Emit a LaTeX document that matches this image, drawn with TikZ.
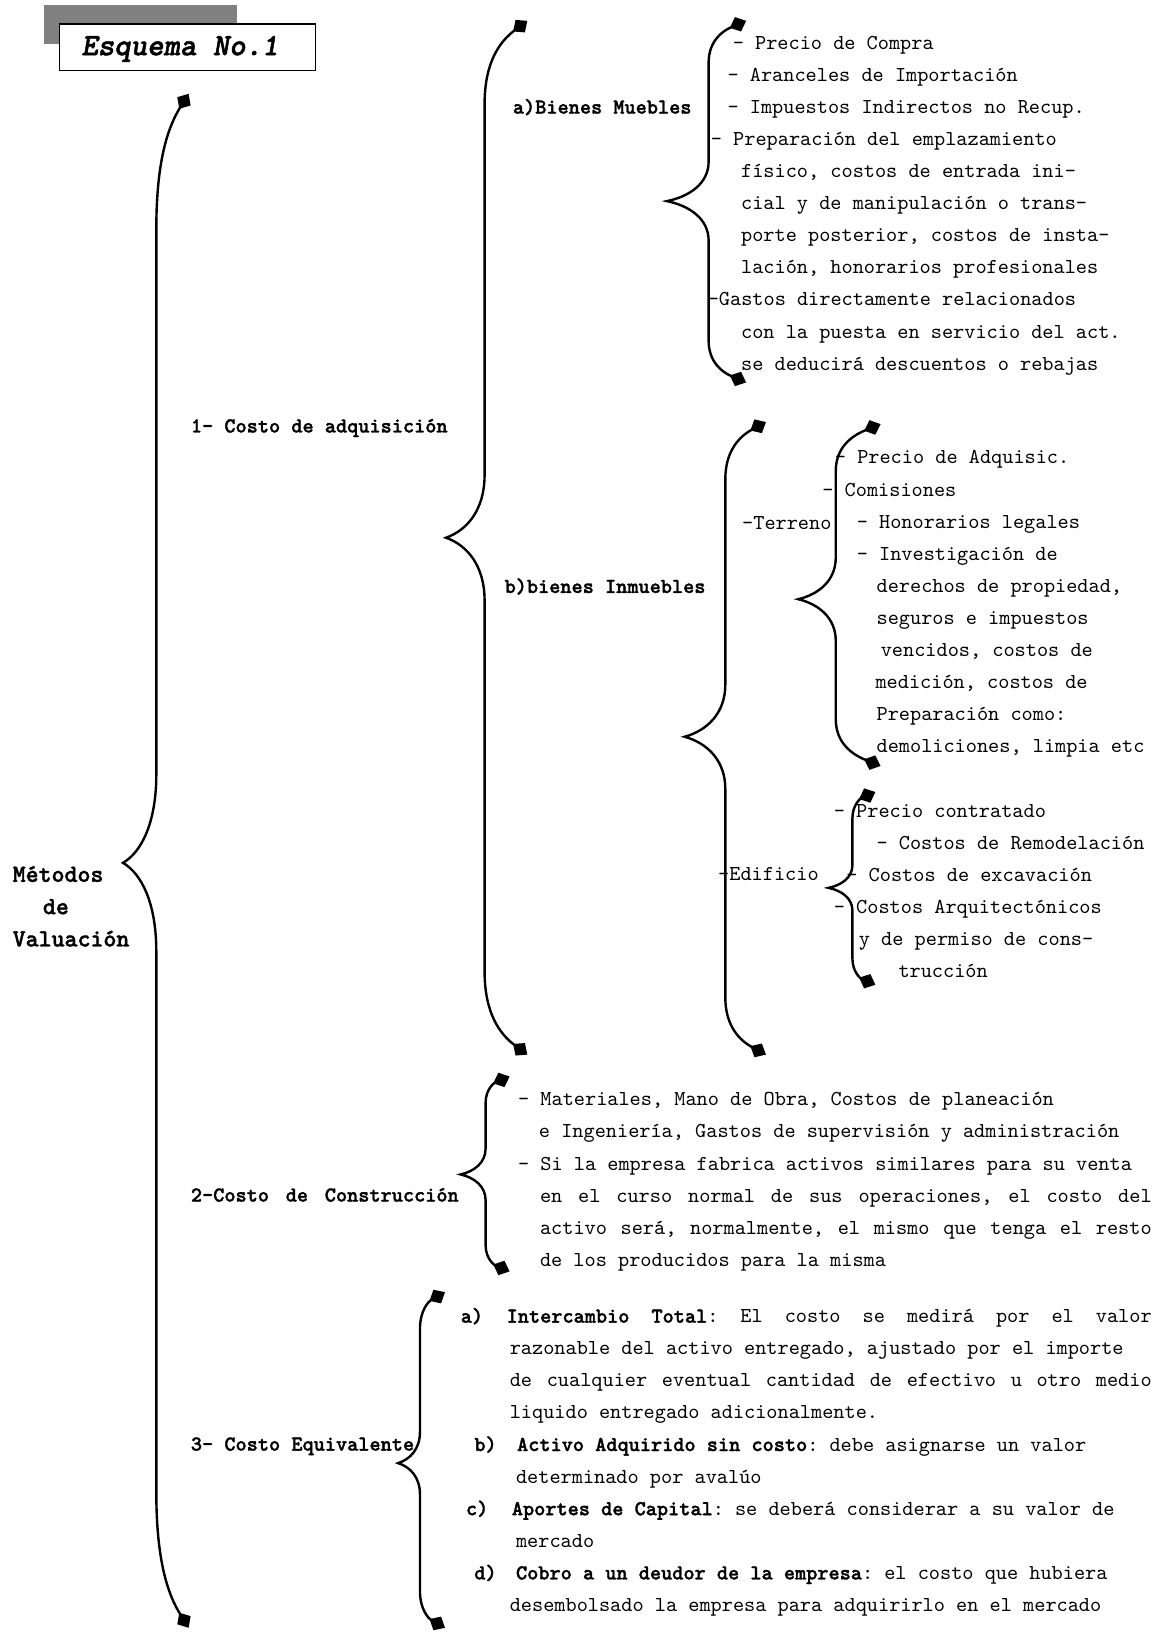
\documentclass[tikz,border=0pt]{standalone}
\usepackage{fontspec}
\setmainfont{lmmono10-regular.otf}[
  BoldFont=lmmonolt10-bold.otf, BoldItalicFont=lmmonolt10-boldoblique.otf,
  BoldFeatures={FakeBold=1.5}, BoldItalicFeatures={FakeBold=1.5}]
\usetikzlibrary{arrows.meta}

\newcommand{\texto}{\fontsize{20.4}{30.8}\selectfont\frenchspacing}
\newcommand{\just}[2]{\makebox[#1][s]{\spaceskip=\fontdimen2\font plus 4em\relax #2}}
% llave: x vertical, y punta sup., y pico, y punta inf., ancho punta, ancho pico, curva punta, curva pico
\newcommand{\llave}[8]{%
  \draw[llave] (#1+#5,#2) .. controls (#1+0.35*#5,#2+0.25*#7) and (#1,#2+0.5*#7) .. (#1,#2+#7)
    -- (#1,#3-#8) .. controls (#1,#3-0.45*#8) and (#1-0.45*#6,#3-0.12*#8) .. (#1-#6,#3)
    .. controls (#1-0.45*#6,#3+0.12*#8) and (#1,#3+0.45*#8) .. (#1,#3+#8)
    -- (#1,#4-#7) .. controls (#1,#4-0.5*#7) and (#1+0.35*#5,#4-0.25*#7) .. (#1+#5,#4);}

\tikzset{
  llave/.style={line width=2.3pt, {Diamond[length=17pt,width=15pt]}-{Diamond[length=17pt,width=15pt]}},
  linea/.style={anchor=base west, inner sep=0pt, font=\texto},
  etiqueta/.style={linea, font=\texto\bfseries},
  bloque/.style={anchor=north west, inner sep=0pt, align=left, font=\texto},
  titulo/.style={anchor=base west, inner sep=0pt, font=\fontsize{30}{34}\selectfont\bfseries\itshape}
}

\begin{document}
\begin{tikzpicture}[x=1pt,y=-1pt]
  \useasboundingbox (0,0) rectangle (1114,1568);

  %Recuadro del titulo con su sombra
  \fill[gray] (42,5) rectangle (227,42);
  \draw[fill=white, line width=1.2pt] (57,23) rectangle (303,68);
  \node[titulo] (esquema) at (78,53) {Esquema No.1};

  %Llaves (primero, el texto va encima)
  \llave{150}{90}{828}{1562}{31}{32}{130}{85}
  \llave{465}{20}{516}{1012}{41}{37}{80}{60}
  \llave{680}{20}{193}{367}{36}{40}{40}{38}
  \llave{696}{405}{707}{1012}{39}{39}{55}{50}
  \llave{802}{407}{575}{735}{43}{36}{45}{40}
  \llave{818}{760}{852}{945}{22}{23}{25}{22}
  \llave{466}{1033}{1127}{1220}{23}{24}{25}{25}
  \llave{403}{1240}{1404}{1562}{24}{21}{35}{30}

  %Nivel 1
  \node[bloque, font=\fontsize{23.7}{31}\selectfont\bfseries] (metodos) at (12,828)
    {\rule{0pt}{18pt}Métodos\\\hspace*{29pt}de\\Valuación};

  %Nivel 2
  \node[etiqueta] (costo1) at (183,415) {1- Costo de adquisición};
  \node[etiqueta] (costo2) at (183,1153) {\just{257pt}{2-Costo de Construcción}};
  \node[etiqueta] (costo3) at (183,1392) {3- Costo Equivalente};

  %Costo de adquisicion
  \node[etiqueta] (muebles) at (492,109) {a)Bienes Muebles};
  \node[etiqueta] (inmuebles) at (484,569) {b)bienes Inmuebles};
  \node[linea] (terreno) at (712,508) {-Terreno};
  \node[linea] (edificio) at (689,845) {-Edificio};

  \node[bloque] (listamuebles) at (679,31)
    {\rule{0pt}{16pt}\hspace*{24pt}- Precio de Compra\\
     \hspace*{19pt}- Aranceles de Importación\\
     \hspace*{19pt}- Impuestos Indirectos no Recup.\\
     \hspace*{3pt}- Preparación del emplazamiento\\
     \hspace*{32pt}físico, costos de entrada ini-\\
     \hspace*{32pt}cial y de manipulación o trans-\\
     \hspace*{32pt}porte posterior, costos de insta-\\
     \hspace*{32pt}lación, honorarios profesionales\\
     -Gastos directamente relacionados\\
     \hspace*{32pt}con la puesta en servicio del act.\\
     \hspace*{32pt}se deducirá descuentos o rebajas};

  \node[bloque] (listaterreno) at (789,429)
    {\rule{0pt}{16pt}\hspace*{12pt}- Precio de Adquisic.\\
     - Comisiones\\
     \hspace*{33pt}- Honorarios legales\\
     \hspace*{33pt}- Investigación de\\
     \hspace*{52pt}derechos de propiedad,\\
     \hspace*{52pt}seguros e impuestos\\
     \hspace*{56pt}vencidos, costos de\\
     \hspace*{51pt}medición, costos de\\
     \hspace*{52pt}Preparación como:\\
     \hspace*{52pt}demoliciones, limpia etc};

  \node[bloque] (listaedificio) at (800,768)
    {\rule{0pt}{16pt}- Precio contratado\\
     \hspace*{41pt}- Costos de Remodelación\\
     \hspace*{12pt}- Costos de excavación\\
     - Costos Arquitectónicos\\
     \hspace*{24pt}y de permiso de cons-\\
     \hspace*{62pt}trucción};

  %Costo de construccion
  \node[bloque] (listaconstruccion) at (497,1045)
    {\rule{0pt}{16pt}- Materiales, Mano de Obra, Costos de planeación\\
     \hspace*{20pt}e Ingeniería, Gastos de supervisión y administración\\
     - Si la empresa fabrica activos similares para su venta\\
     \hspace*{21pt}\just{587pt}{en el curso normal de sus operaciones, el costo del}\\
     \hspace*{21pt}\just{587pt}{activo será, normalmente, el mismo que tenga el resto}\\
     \hspace*{21pt}de los producidos para la misma};

  %Costo equivalente
  \node[bloque] (listaequivalente) at (442,1253)
    {\rule{0pt}{16pt}\makebox[44pt][l]{\textbf{a)}}\just{619pt}{\textbf{Intercambio Total}: El costo se medirá por el valor}\\
     \hspace*{47pt}razonable del activo entregado, ajustado por el importe\\
     \hspace*{47pt}\just{616pt}{de cualquier eventual cantidad de efectivo u otro medio}\\
     \hspace*{47pt}liquido entregado adicionalmente.\\
     \hspace*{13pt}\makebox[41pt][l]{\textbf{b)}}\textbf{Activo Adquirido sin costo}: debe asignarse un valor\\
     \hspace*{53pt}determinado por avalúo\\
     \hspace*{5pt}\makebox[44pt][l]{\textbf{c)}}\textbf{Aportes de Capital}: se deberá considerar a su valor de\\
     \hspace*{53pt}mercado\\
     \hspace*{13pt}\makebox[40pt][l]{\textbf{d)}}\textbf{Cobro a un deudor de la empresa}: el costo que hubiera\\
     \hspace*{47pt}desembolsado la empresa para adquirirlo en el mercado};
\end{tikzpicture}
\end{document}
